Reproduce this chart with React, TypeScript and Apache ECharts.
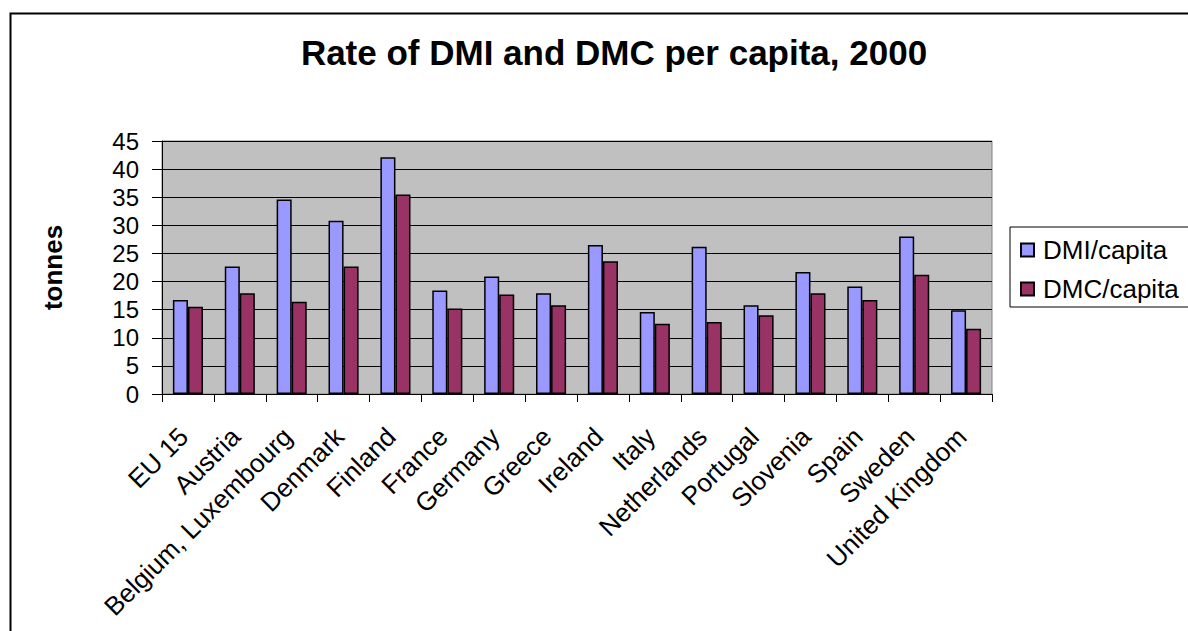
import React, { useEffect, useRef } from "react";
import * as echarts from "echarts";

const categories = [
  "EU 15", "Austria", "Belgium, Luxembourg", "Denmark", "Finland", "France",
  "Germany", "Greece", "Ireland", "Italy", "Netherlands", "Portugal",
  "Slovenia", "Spain", "Sweden", "United Kingdom",
];
const dmiPerCapita = [16.7, 22.7, 34.6, 30.8, 42.1, 18.4, 20.9, 17.9, 26.5, 14.6, 26.2, 15.8, 21.7, 19.1, 28.0, 14.9];
const dmcPerCapita = [15.5, 17.9, 16.4, 22.7, 35.5, 15.2, 17.7, 15.8, 23.6, 12.5, 12.8, 14.0, 17.9, 16.7, 21.2, 11.6];
const yTicks = { min: 0, max: 45, interval: 5 };

const FONT = "'Liberation Sans', Arial, sans-serif";

export default function App() {
  const ref = useRef<HTMLDivElement>(null);
  useEffect(() => {
    if (!ref.current) return;
    const chart = echarts.init(ref.current, undefined, { renderer: "svg" });
    chart.setOption({
      animation: false,
      backgroundColor: "#ffffff",
      textStyle: { fontFamily: FONT },
      title: {
        text: "Rate of DMI and DMC per capita, 2000",
        left: 609,
        textAlign: "center",
        top: 30,
        textStyle: { fontFamily: FONT, fontSize: 35, fontWeight: "bold", color: "#000" },
      },
      graphic: [
        {
          type: "rect",
          shape: { x: 10.5, y: 13.5, width: 1250, height: 700 },
          style: { fill: "none", stroke: "#000", lineWidth: 2 },
          silent: true,
          z: 100,
        },
      ],
      legend: {
        orient: "vertical",
        left: 1010,
        top: 227,
        padding: [10, 20, 5, 10],
        itemGap: 13,
        itemWidth: 13,
        itemHeight: 13,
        icon: "rect",
        backgroundColor: "#ffffff",
        borderColor: "#000",
        borderWidth: 1,
        textStyle: { fontFamily: FONT, fontSize: 26, color: "#000", padding: [0, 0, 0, 4] },
        data: ["DMI/capita", "DMC/capita"],
      },
      grid: {
        left: 162,
        right: 196,
        top: 141,
        bottom: 237,
        show: true,
        backgroundColor: "#C0C0C0",
        borderColor: "#808080",
        borderWidth: 1,
        containLabel: false,
      },
      xAxis: {
        type: "category",
        data: categories,
        boundaryGap: true,
        axisLine: { show: true, lineStyle: { color: "#000", width: 1 } },
        axisTick: { show: true, length: 8, lineStyle: { color: "#000" } },
        axisLabel: {
          rotate: 45,
          interval: 0,
          margin: 34,
          padding: [0, 6, 0, 0],
          fontFamily: FONT,
          fontSize: 26,
          color: "#000",
        },
      },
      yAxis: {
        type: "value",
        min: yTicks.min,
        max: yTicks.max,
        interval: yTicks.interval,
        name: "tonnes",
        nameLocation: "middle",
        nameRotate: 90,
        nameGap: 96,
        nameTextStyle: { fontFamily: FONT, fontSize: 26, fontWeight: "bold", color: "#000" },
        axisLine: { show: true, lineStyle: { color: "#000", width: 1 } },
        axisTick: { show: true, length: 10, lineStyle: { color: "#000" } },
        axisLabel: { fontFamily: FONT, fontSize: 24, color: "#000", margin: 23 },
        splitLine: { show: true, lineStyle: { color: "#000", width: 1 } },
      },
      series: [
        {
          name: "DMI/capita",
          type: "bar",
          data: dmiPerCapita,
          barGap: "0%",
          barCategoryGap: "42%",
          itemStyle: { color: "#9999FF", borderColor: "#000", borderWidth: 1.5 },
        },
        {
          name: "DMC/capita",
          type: "bar",
          data: dmcPerCapita,
          barGap: "0%",
          barCategoryGap: "42%",
          itemStyle: { color: "#993366", borderColor: "#000", borderWidth: 1.5 },
        },
      ],
    });
    return () => chart.dispose();
  }, []);
  return (
    <div
      ref={ref}
      style={{ position: "fixed", left: 0, top: 0, width: 1188, height: 631 }}
    />
  );
}
